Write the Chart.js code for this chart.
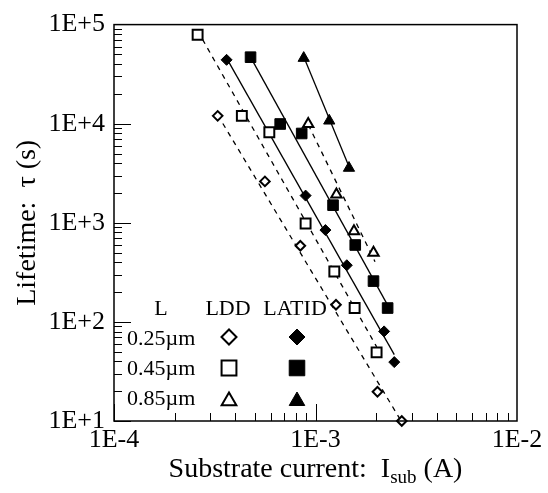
<!DOCTYPE html>
<html>
<head>
<meta charset="utf-8">
<script src="https://cdn.jsdelivr.net/npm/chart.js@4.4.1/dist/chart.umd.min.js"></script>
<style>
  html, body { margin: 0; padding: 0; background: #fff; }
</style>
</head>
<body>
<canvas id="chart" width="548" height="493"></canvas>
<script>
const SERIF = '"Liberation Serif", "Times New Roman", "DejaVu Serif", serif';

// axis ticks
const xTickValues = [1e-4, 1e-3, 1e-2];
const xTickLabels = ["1E-4", "1E-3", "1E-2"];
const yTickValues = [1e1, 1e2, 1e3, 1e4, 1e5];
const yTickLabels = ["1E+1", "1E+2", "1E+3", "1E+4", "1E+5"];

// measured points: Isub (A) vs lifetime (s)
const ldd025X = [3.27e-4, 5.61e-4, 8.41e-4, 1.264e-3, 2.03e-3, 2.68e-3];
const ldd025Y = [1.2e4, 2618, 587, 149, 19.7, 10];
const ldd045X = [2.60e-4, 4.31e-4, 5.90e-4, 8.93e-4, 1.24e-3, 1.564e-3, 2.01e-3];
const ldd045Y = [7.91e4, 1.2e4, 8206, 985, 322, 138, 49.3];
const ldd085X = [9.2e-4, 1.27e-3, 1.552e-3, 1.94e-3];
const ldd085Y = [9930, 1933, 820, 498];

const latid025X = [3.62e-4, 8.93e-4, 1.12e-3, 1.43e-3, 2.19e-3, 2.46e-3];
const latid025Y = [4.41e4, 1881, 845, 373, 80.2, 39.3];
const latid045X = [4.76e-4, 6.68e-4, 8.54e-4, 1.222e-3, 1.575e-3, 1.94e-3, 2.28e-3];
const latid045Y = [4.69e4, 9930, 7966, 1506, 597, 258, 138];
const latid085X = [8.74e-4, 1.17e-3, 1.466e-3];
const latid085Y = [4.59e4, 1.07e4, 3571];

// fitted lines (end points)
const fitLdd025X = [3.27e-4, 2.68e-3];
const fitLdd025Y = [1.227e4, 9.75];
const fitLdd045X = [2.60e-4, 2.012e-3];
const fitLdd045Y = [8.67e4, 56];
const fitLdd085X = [9.21e-4, 1.974e-3];
const fitLdd085Y = [9775, 405];
const fitLatid025X = [3.62e-4, 2.46e-3];
const fitLatid025Y = [4.585e4, 46.8];
const fitLatid045X = [4.76e-4, 2.28e-3];
const fitLatid045Y = [4.69e4, 147.5];
const fitLatid085X = [8.74e-4, 1.466e-3];
const fitLatid085Y = [4.75e4, 3705];

function pts(xs, ys) {
  return xs.map((x, i) => ({ x: x, y: ys[i] }));
}

function markers(xs, ys, style, radius, filled) {
  return {
    data: pts(xs, ys),
    showLine: false,
    pointStyle: style,
    pointRadius: radius,
    pointBackgroundColor: filled ? "#000" : "#fff",
    pointBorderColor: "#000",
    pointBorderWidth: filled ? 1 : 2,
    clip: false,
    order: 1,
  };
}

function fitLine(xs, ys, dashed) {
  return {
    data: pts(xs, ys),
    showLine: true,
    borderColor: "#000",
    borderWidth: 1.3,
    borderDash: dashed ? [5, 5] : [],
    pointRadius: 0,
    order: 2,
  };
}

// inward tick marks, box and x title
const frameTicks = {
  id: "frameTicks",
  afterDatasetsDraw(chart) {
    const { ctx, chartArea: a, scales } = chart;
    const x = scales.x, y = scales.y;
    ctx.save();
    ctx.strokeStyle = "#000";
    ctx.lineWidth = 1;
    ctx.beginPath();
    [1e-4, 1e-3].forEach((d) => {
      for (let m = 1; m <= 9; m++) {
        const px = Math.round(x.getPixelForValue(m * d)) + 0.5;
        const len = m === 1 ? 17 : 8;
        ctx.moveTo(px, a.bottom);
        ctx.lineTo(px, a.bottom - len);
      }
    });
    [1e1, 1e2, 1e3, 1e4].forEach((d) => {
      for (let m = 1; m <= 9; m++) {
        const py = Math.round(y.getPixelForValue(m * d)) + 0.5;
        const len = m === 1 ? 17 : 8;
        ctx.moveTo(a.left, py);
        ctx.lineTo(a.left + len, py);
      }
    });
    ctx.stroke();
    ctx.lineWidth = 1.5;
    ctx.strokeRect(a.left, a.top, a.right - a.left, a.bottom - a.top);

    const big = "28px " + SERIF, small = "19px " + SERIF;
    const p1 = "Substrate current:  I", p2 = "sub", p3 = " (A)";
    ctx.font = big;
    const w1 = ctx.measureText(p1).width, w3 = ctx.measureText(p3).width;
    ctx.font = small;
    const w2 = ctx.measureText(p2).width;
    const tx = (a.left + a.right) / 2 - (w1 + w2 + w3) / 2;
    const base = 477;
    ctx.fillStyle = "#000";
    ctx.textAlign = "left";
    ctx.textBaseline = "alphabetic";
    ctx.font = big;
    ctx.fillText(p1, tx, base);
    ctx.font = small;
    ctx.fillText(p2, tx + w1, base + 6);
    ctx.font = big;
    ctx.fillText(p3, tx + w1 + w2, base);
    ctx.restore();
  },
};

// key table in the lower left corner
function shape(ctx, style, r, cx, cy, filled) {
  ctx.save();
  ctx.fillStyle = filled ? "#000" : "#fff";
  ctx.strokeStyle = "#000";
  ctx.lineWidth = filled ? 1 : 2;
  Chart.helpers.drawPoint(ctx, { pointStyle: style, radius: r, borderWidth: ctx.lineWidth, rotation: 0 }, cx, cy);
  ctx.restore();
}

const keyTable = {
  id: "keyTable",
  afterDraw(chart) {
    const ctx = chart.ctx;
    ctx.save();
    ctx.fillStyle = "#000";
    ctx.font = "22px " + SERIF;
    ctx.textBaseline = "middle";
    ctx.textAlign = "center";
    ctx.fillText("L", 161, 309);
    ctx.fillText("LDD", 228, 309);
    ctx.fillText("LATID", 295, 309);
    ctx.textAlign = "left";
    ctx.fillText("0.25\u00b5m", 127, 339);
    ctx.fillText("0.45\u00b5m", 127, 369);
    ctx.fillText("0.85\u00b5m", 127, 399);
    ctx.restore();
    shape(ctx, "rectRot", 7.5, 229, 337, false);
    shape(ctx, "rectRot", 8, 297, 337, true);
    shape(ctx, "rect", 10.5, 229, 368, false);
    shape(ctx, "rect", 11, 297, 368, true);
    shape(ctx, "triangle", 8.5, 229, 401, false);
    shape(ctx, "triangle", 9, 297, 401, true);
  },
};

const tickFont = { family: SERIF, size: 26 };

new Chart(document.getElementById("chart"), {
  type: "scatter",
  data: {
    datasets: [
      markers(ldd025X, ldd025Y, "rectRot", 4.8, false),
      markers(ldd045X, ldd045Y, "rect", 7, false),
      markers(ldd085X, ldd085Y, "triangle", 6, false),
      markers(latid025X, latid025Y, "rectRot", 5.5, true),
      markers(latid045X, latid045Y, "rect", 7.5, true),
      markers(latid085X, latid085Y, "triangle", 6.5, true),
      fitLine(fitLdd025X, fitLdd025Y, true),
      fitLine(fitLdd045X, fitLdd045Y, true),
      fitLine(fitLdd085X, fitLdd085Y, true),
      fitLine(fitLatid025X, fitLatid025Y, false),
      fitLine(fitLatid045X, fitLatid045Y, false),
      fitLine(fitLatid085X, fitLatid085Y, false),
    ],
  },
  options: {
    responsive: false,
    animation: false,
    layout: { padding: { top: 16, right: 31, left: 0, bottom: 0 } },
    plugins: { legend: { display: false }, tooltip: { enabled: false } },
    scales: {
      x: {
        type: "logarithmic",
        min: 1e-4,
        max: 1e-2,
        grid: { display: false, drawTicks: false },
        border: { display: false },
        ticks: {
          font: tickFont,
          color: "#000",
          padding: 4,
          maxRotation: 0,
          autoSkip: false,
          callback: (v, i) => xTickLabels[i],
        },
        afterBuildTicks: (s) => { s.ticks = xTickValues.map((v) => ({ value: v })); },
        afterFit: (s) => { s.height = 72; },
      },
      y: {
        type: "logarithmic",
        min: 1e1,
        max: 1e5,
        grid: { display: false, drawTicks: false },
        border: { display: false },
        title: {
          display: true,
          text: "Lifetime:  \u03c4 (s)",
          color: "#000",
          font: { family: SERIF, size: 28 },
          padding: { top: 11, bottom: 0 },
        },
        ticks: {
          font: tickFont,
          color: "#000",
          padding: 9,
          autoSkip: false,
          callback: (v, i) => yTickLabels[i],
        },
        afterBuildTicks: (s) => { s.ticks = yTickValues.map((v) => ({ value: v })); },
        afterFit: (s) => { s.width = 114; },
      },
    },
  },
  plugins: [frameTicks, keyTable],
});
</script>
</body>
</html>
